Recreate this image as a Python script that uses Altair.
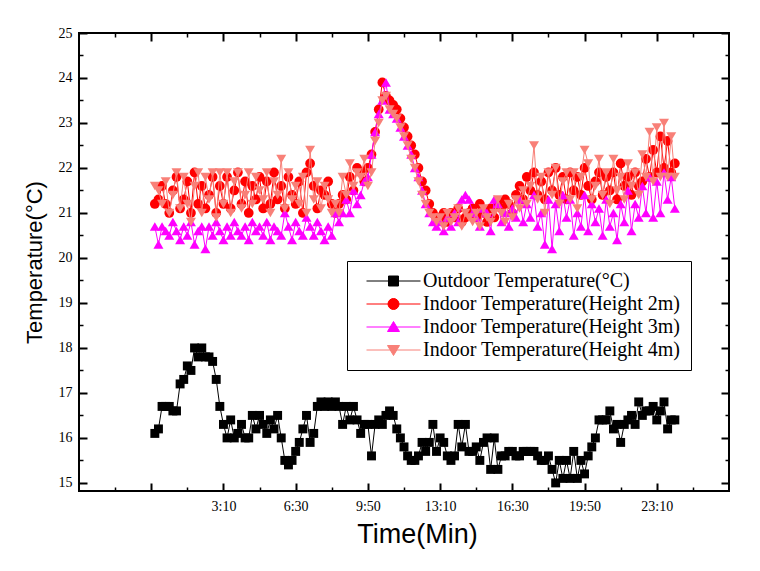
import json
import altair as alt
import pandas as pd

# ---------------- data ----------------
times = list(range(0, 1441, 10))  # minutes, 10-min sampling

outdoor = [
    16.1, 16.2, 16.7, 16.7, 16.7, 16.6, 16.6, 17.2, 17.3, 17.6,
    17.5, 18.0, 17.8, 18.0, 17.8, 17.8, 17.7, 17.3, 16.7, 16.3,
    16.0, 16.4, 16.0, 16.1, 16.3, 16.0, 16.0, 16.5, 16.2, 16.5,
    16.3, 16.1, 16.4, 16.2, 16.5, 16.0, 15.5, 15.4, 15.5, 15.7,
    15.9, 16.2, 16.5, 15.9, 16.1, 16.7, 16.8, 16.7, 16.8, 16.7,
    16.8, 16.7, 16.3, 16.7, 16.4, 16.7, 16.4, 16.1, 16.3, 16.3,
    15.6, 16.3, 16.4, 16.3, 16.5, 16.6, 16.5, 16.2, 16.0, 15.8,
    15.6, 15.5, 15.5, 15.6, 15.9, 15.7, 15.9, 16.3, 15.7, 16.0,
    15.9, 15.6, 15.5, 15.6, 16.3, 15.8, 16.3, 15.7, 15.7, 15.8,
    15.5, 15.9, 16.0, 15.3, 16.0, 15.3, 15.6, 15.6, 15.7, 15.7,
    15.6, 15.6, 15.7, 15.7, 15.7, 15.7, 15.6, 15.5, 15.5, 15.6,
    15.3, 15.0, 15.5, 15.1, 15.5, 15.1, 15.7, 15.1, 15.5, 15.2,
    15.6, 15.8, 16.0, 16.4, 16.4, 16.4, 16.6, 16.2, 16.3, 15.9,
    16.3, 16.4, 16.5, 16.3, 16.8, 16.5, 16.6, 16.6, 16.7, 16.4,
    16.6, 16.8, 16.2, 16.4, 16.4,
]

indoor_2m = [
    21.2, 21.3, 21.6, 21.2, 21.0, 21.5, 21.8, 21.1, 21.3, 21.7,
    21.0, 21.9, 21.2, 21.6, 21.1, 21.4, 21.8, 21.0, 21.6, 21.2,
    21.8, 21.1, 21.5, 21.9, 21.2, 21.7, 21.0, 21.6, 21.3, 21.8,
    21.1, 21.7, 21.2, 21.9, 21.3, 21.6, 21.1, 21.8, 21.4, 21.2,
    21.7, 21.0, 21.9, 22.1, 21.6, 21.1, 21.5, 21.4, 21.7, 21.2,
    21.0,
    21.2, 21.4, 21.3, 21.8, 21.5, 22.0, 21.9, 21.7, 22.0, 22.3, 22.8, 23.3,
    23.9, 23.6, 23.5, 23.4, 23.3, 23.1, 22.9, 22.7, 22.5, 22.3, 22.0, 21.7,
    21.5, 21.2, 21.0, 20.9,
    20.9, 21.0, 20.8, 21.0, 20.9, 21.1, 20.8, 20.9, 21.0, 21.1, 20.9, 21.2,
    21.0, 20.8, 21.1, 20.9, 21.2,
    21.1, 21.3, 21.2, 21.0, 21.4, 21.6, 21.3, 21.8, 21.5, 21.9,
    21.4, 21.7, 21.3, 21.9, 21.5, 22.0, 21.4, 21.8, 21.3, 21.9,
    21.5, 21.8, 21.4, 22.0, 21.6, 21.3, 21.7, 21.9, 21.4, 21.8,
    21.5, 21.9, 21.3, 22.1, 21.6, 21.8, 21.4, 21.9, 21.6, 21.7,
    22.2, 21.8, 22.4, 21.9, 22.7, 22.0, 22.6, 21.9, 22.1,
]

indoor_3m = [
    20.7, 20.3, 20.7, 20.6, 20.5, 20.8, 20.6, 20.4, 20.7, 20.5,
    20.8, 20.3, 20.6, 20.7, 20.2, 20.7, 20.5, 20.8, 20.6, 20.4,
    20.7, 20.5, 20.8, 20.6, 20.5, 20.7, 20.4, 20.8, 20.6, 20.7,
    20.5, 20.8, 20.4, 20.7, 20.6, 20.5, 21.0, 20.7, 20.4, 20.8,
    20.6, 20.5, 20.9, 20.7, 20.5, 20.8, 20.6, 20.4, 20.7, 20.5,
    21.0,
    20.8, 21.0, 21.3, 21.0, 21.5, 21.2, 21.4, 21.7, 21.8, 22.3, 22.8, 23.2,
    23.5, 23.9, 23.3, 23.2, 23.1, 22.9, 22.7, 22.5, 22.3, 22.0, 21.8, 21.5,
    21.2, 21.0, 20.8, 20.7,
    20.8, 20.6, 20.9, 20.7, 21.0, 20.8, 21.3, 21.4, 21.3, 21.0, 20.9, 20.7,
    21.1, 21.0, 20.6, 21.3, 21.2,
    20.8, 21.0, 20.7, 21.1, 20.9, 21.3, 20.8, 21.2, 20.9, 21.4,
    20.7, 21.0, 20.3, 21.3, 20.2, 21.2, 20.6, 21.4, 20.9, 21.3,
    20.5, 21.0, 20.7, 21.4, 20.6, 21.2, 20.8, 21.1, 20.5, 21.3,
    20.7, 21.0, 20.4, 21.2, 20.8, 21.5, 20.6, 21.2, 20.9, 21.6,
    21.0, 21.8, 20.9, 21.7, 21.0, 21.9, 21.3, 21.8, 21.1,
]

indoor_4m = [
    21.6, 21.5, 21.2, 21.7, 21.0, 21.4, 21.9, 21.1, 21.8, 21.2,
    20.8, 21.6, 21.9, 21.0, 21.8, 21.3, 21.9, 20.9, 21.9, 21.2,
    21.9, 21.0, 21.7, 21.9, 21.1, 21.4, 21.9, 21.2, 21.8, 21.5,
    21.3, 21.9, 21.0, 21.7, 21.4, 22.2, 21.1, 21.9, 21.3, 21.6,
    21.2, 21.8, 21.0, 22.4, 21.3, 21.7, 21.1, 21.6, 21.3, 21.0,
    21.2,
    21.0, 21.8, 21.4, 22.1, 21.6, 21.9, 21.8, 22.2, 21.6, 21.9, 22.6, 23.0,
    23.5, 23.6, 23.3, 23.2, 23.1, 22.9, 22.7, 22.5, 22.2, 22.0, 21.7, 21.4,
    21.2, 21.0, 20.9, 20.8,
    20.9, 20.7, 21.0, 20.8, 20.9, 21.1, 20.7, 21.0, 20.9, 20.8, 21.0, 20.7,
    21.1, 20.9, 20.8, 21.0, 21.3,
    21.0, 20.8, 21.2, 20.9, 21.3, 21.1, 21.5, 21.2, 21.6, 22.5,
    21.3, 21.8, 21.0, 21.9, 21.4, 22.0, 21.2, 21.7, 21.9, 21.3,
    21.9, 21.1, 21.8, 22.4, 22.1, 21.3, 21.6, 22.2, 21.4, 21.9,
    21.2, 22.2, 21.5, 21.8, 21.3, 22.1, 21.6, 21.9, 21.4, 22.3,
    21.8, 22.8, 21.7, 22.9, 21.8, 23.0, 21.8, 22.7, 21.8,
]

series_names = [
    "Outdoor Temperature(°C)",
    "Indoor Temperature(Height 2m)",
    "Indoor Temperature(Height 3m)",
    "Indoor Temperature(Height 4m)",
]
series_colors = ["#000000", "#FF0000", "#FF00FF", "#F88078"]
series_shapes = ["square", "circle", "triangle-up", "triangle-down"]
marker_sizes = [80, 95, 100, 100]

# legend symbols: a line with the marker in its middle
legend_paths = [
    "M-1.1,0H9.7M3.3,-1H5.3V1H3.3Z",
    "M-1.1,0H9.7M5.4,0A1.1,1.1,0,1,1,3.2,0A1.1,1.1,0,1,1,5.4,0Z",
    "M-1.1,0H9.7M4.3,-1.1L5.5,0.9L3.1,0.9Z",
    "M-1.1,0H9.7M4.3,1.1L5.5,-0.9L3.1,-0.9Z",
]

x_major = [-10, 190, 390, 590, 790, 990, 1190, 1390]
x_labels = ["", "3:10", "6:30", "9:50", "13:10", "16:30", "19:50", "23:10"]
x_minor = [-110, 90, 290, 490, 690, 890, 1090, 1290, 1490]
y_major = [15, 16, 17, 18, 19, 20, 21, 22, 23, 24, 25]
y_minor = [15.5, 16.5, 17.5, 18.5, 19.5, 20.5, 21.5, 22.5, 23.5, 24.5]

x_domain = [-210, 1590]
y_domain = [14.82, 25]

# ---------------- table ----------------
rows = []
for name, vals in zip(series_names, [outdoor, indoor_2m, indoor_3m, indoor_4m]):
    for t, v in zip(times, vals):
        rows.append({"t": t, "value": v, "series": name})
df = pd.DataFrame(rows)

xscale = alt.Scale(domain=x_domain, nice=False, zero=False)
yscale = alt.Scale(domain=y_domain, nice=False, zero=False)

base = alt.Chart(df)
layers = []
for name, col, shp, sz in zip(series_names, series_colors, series_shapes, marker_sizes):
    sub = base.transform_filter(alt.datum.series == name)
    enc = dict(
        x=alt.X("t:Q", scale=xscale, axis=None),
        y=alt.Y("value:Q", scale=yscale, axis=None),
    )
    layers.append(sub.mark_line(color=col, strokeWidth=1).encode(**enc))
    layers.append(
        sub.mark_point(shape=shp, filled=True, color=col, size=sz, opacity=1).encode(**enc)
    )

empty = base.transform_filter("datum.value < 0")

label_expr = f"{json.dumps(x_labels)}[indexof({json.dumps(x_major)}, datum.value)]"

common = dict(domain=False, grid=False, tickColor="black")


def axis_layer(xaxis, yaxis):
    return empty.mark_point(opacity=0).encode(
        x=alt.X("t:Q", scale=xscale, axis=xaxis),
        y=alt.Y("value:Q", scale=yscale, axis=yaxis),
    )


bottom_major = alt.Axis(
    orient="bottom", values=x_major, labelExpr=label_expr, tickSize=8, tickWidth=2,
    offset=-8, labelFont="Liberation Serif", labelFontSize=14, labelColor="black",
    labelPadding=8, labelFlush=False, labelOverlap=False,
    title="Time(Min)", titleFont="Liberation Sans", titleFontSize=27,
    titleFontWeight="normal", titleColor="black", titlePadding=8, titleX=338,
    **common,
)
left_major = alt.Axis(
    orient="left", values=y_major, format="d", tickSize=8, tickWidth=2, offset=-8,
    labelFont="Liberation Serif", labelFontSize=14, labelColor="black", labelPadding=7,
    labelFlush=False, labelOverlap=False,
    title="Temperature(°C)", titleFont="Liberation Sans", titleFontSize=22,
    titleFontWeight="normal", titleColor="black", titlePadding=12, **common,
)
bottom_minor = alt.Axis(orient="bottom", values=x_minor, tickSize=4, tickWidth=1.5,
                        offset=-4, labels=False, title="", **common)
left_minor = alt.Axis(orient="left", values=y_minor, tickSize=4, tickWidth=1.5,
                      offset=-4, labels=False, title="", **common)
top_major = alt.Axis(orient="top", values=x_major, tickSize=8, tickWidth=2,
                     offset=-8, labels=False, title="", **common)
top_minor = alt.Axis(orient="top", values=x_minor, tickSize=4, tickWidth=1.5,
                     offset=-4, labels=False, title="", **common)
right_major = alt.Axis(orient="right", values=y_major, tickSize=8, tickWidth=2,
                       offset=-8, labels=False, title="", **common)
right_minor = alt.Axis(orient="right", values=y_minor, tickSize=4, tickWidth=1.5,
                       offset=-4, labels=False, title="", **common)

layers.append(axis_layer(bottom_major, left_major))
layers.append(axis_layer(bottom_minor, left_minor))
layers.append(axis_layer(top_major, right_major))
layers.append(axis_layer(top_minor, right_minor))

legend = alt.Legend(
    title=None, orient="none", legendX=268, legendY=228,
    strokeColor="black", fillColor="white", padding=10,
    labelFont="Liberation Serif", labelFontSize=20, labelColor="black",
    labelLimit=400, labelOffset=41, symbolOffset=5, symbolSize=100,
    symbolStrokeWidth=1, rowPadding=3, symbolOpacity=1,
)
legend_layer = empty.mark_point(size=100, filled=True, opacity=1).encode(
    x=alt.X("t:Q", scale=xscale, axis=None),
    y=alt.Y("value:Q", scale=yscale, axis=None),
    fill=alt.Fill("series:N", scale=alt.Scale(domain=series_names, range=series_colors), legend=legend),
    stroke=alt.Stroke("series:N", scale=alt.Scale(domain=series_names, range=series_colors), legend=legend),
    shape=alt.Shape("series:N", scale=alt.Scale(domain=series_names, range=legend_paths), legend=legend),
)
layers.append(legend_layer)

chart = (
    alt.layer(*layers)
    .resolve_axis(x="independent", y="independent")
    .properties(
        width=650, height=458,
        autosize=alt.AutoSizeParams(type="none"),
        padding={"left": 71, "top": 25, "right": 20, "bottom": 60},
        background="white",
    )
    .configure_view(stroke="black", strokeWidth=2)
    .configure_legend(strokeWidth=1)
)

chart.save("out.html", embed_options={"renderer": "svg", "actions": False})
